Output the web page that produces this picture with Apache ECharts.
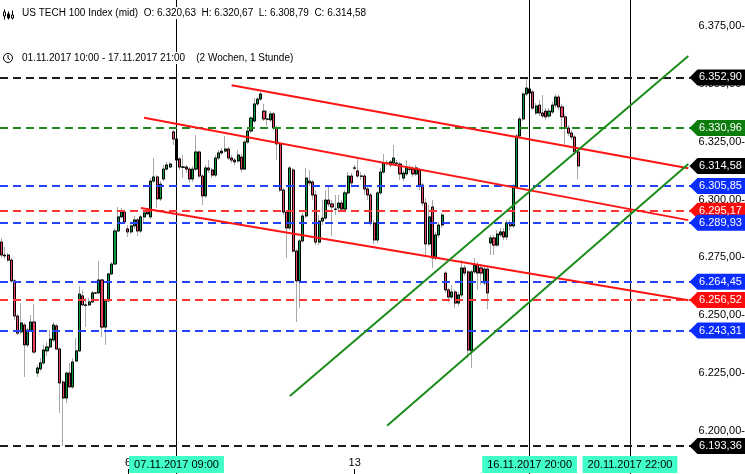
<!DOCTYPE html>
<html><head><meta charset="utf-8">
<script src="https://cdn.jsdelivr.net/npm/echarts@6/dist/echarts.min.js"></script>
<style>html,body{margin:0;padding:0;background:#fff;overflow:hidden}#c{width:745px;height:474px}</style>
</head><body><div id="c"></div>
<script>
// Trading days: [date, first hour, last hour] (hourly candles)
const tradingDays = [
  ['01.11.2017', 11, 21], ['02.11.2017', 8, 21], ['03.11.2017', 8, 21],
  ['06.11.2017', 8, 21], ['07.11.2017', 8, 21], ['08.11.2017', 8, 21], ['09.11.2017', 8, 21], ['10.11.2017', 8, 21],
  ['13.11.2017', 8, 21], ['14.11.2017', 8, 21], ['15.11.2017', 8, 21], ['16.11.2017', 8, 21], ['17.11.2017', 8, 22],
  ['20.11.2017', 8, 22], ['21.11.2017', 8, 22], ['22.11.2017', 8, 22], ['23.11.2017', 8, 22]
];
const slotCount = 230;

// [open, close, low, high]
const candles = [
[6281.6,6276.0,6274.7,6283.4],[6276.0,6275.6,6274.3,6279.5],[6276.0,6273.8,6273.0,6276.9],[6273.8,6264.8,6263.9,6274.7],
[6264.8,6249.6,6247.9,6265.6],[6249.6,6242.2,6241.4,6250.5],[6242.7,6246.6,6241.8,6255.2],[6245.7,6237.1,6223.2,6246.6],
[6237.1,6243.5,6236.2,6244.4],[6243.5,6247.0,6242.7,6250.0],[6247.0,6234.0,6233.2,6254.8],[6224.9,6227.1,6223.2,6228.4],
[6226.7,6229.3,6225.8,6231.4],[6229.3,6234.9,6228.4,6237.1],[6234.5,6236.2,6232.3,6238.4],[6236.2,6239.6,6235.3,6243.5],
[6239.2,6245.7,6238.4,6247.0],[6245.3,6235.3,6234.9,6246.1],[6235.3,6220.6,6207.6,6236.2],[6221.0,6214.1,6193.36,6221.9],
[6214.1,6224.9,6211.9,6225.4],[6224.9,6218.9,6218.4,6229.3],[6218.9,6229.7,6218.0,6231.4],[6230.1,6234.5,6229.7,6240.1],
[6234.5,6259.1,6234.0,6262.6],[6258.3,6254.4,6253.9,6260.9],[6254.4,6254.2,6244.8,6257.4],[6254.4,6255.7,6253.9,6257.4],
[6255.7,6259.6,6255.2,6260.4],[6259.6,6259.5,6259.1,6260.0],[6259.6,6265.2,6259.1,6273.4],[6265.2,6244.8,6240.5,6265.6],
[6244.8,6256.1,6237.1,6256.5],[6256.1,6267.8,6255.7,6268.2],[6267.8,6272.1,6267.4,6273.0],[6272.1,6286.4,6271.7,6287.7],
[6286.4,6292.5,6286.0,6296.8],[6292.5,6294.6,6292.0,6296.4],[6294.6,6290.3,6289.4,6295.5],[6287.3,6286.0,6283.8,6289.0],
[6286.0,6288.6,6285.1,6289.4],[6288.6,6291.2,6287.3,6292.9],[6291.2,6286.4,6284.2,6292.0],[6286.4,6292.5,6285.5,6293.3],
[6292.5,6294.2,6290.3,6295.5],[6293.8,6294.6,6293.3,6296.4],[6292.5,6308.0,6291.6,6309.3],[6308.0,6309.8,6307.2,6318.0],
[6309.8,6300.3,6296.4,6310.6],[6300.3,6306.7,6299.4,6308.0],[6308.9,6313.2,6308.0,6315.0],[6313.2,6315.0,6312.4,6316.3],
[6314.1,6315.4,6313.7,6316.3],[6329.3,6326.2,6323.6,6330.1],[6326.2,6317.1,6316.3,6327.1],[6317.6,6314.1,6312.8,6318.4],
[6314.1,6314.0,6309.3,6319.3],[6314.1,6313.2,6311.5,6315.0],[6313.2,6308.9,6307.2,6314.1],[6308.9,6313.2,6307.6,6314.5],
[6313.2,6320.6,6312.4,6328.0],[6320.6,6310.2,6309.3,6321.5],[6310.2,6301.6,6297.7,6311.1],[6301.6,6313.7,6300.7,6315.0],
[6313.7,6312.8,6311.5,6317.1],[6312.8,6310.6,6309.3,6313.7],[6310.6,6318.0,6309.8,6319.3],[6318.0,6320.2,6317.1,6321.5],
[6320.2,6321.0,6319.3,6322.3],[6321.0,6321.9,6320.2,6327.5],[6321.9,6318.0,6317.1,6322.8],[6318.0,6317.1,6315.8,6319.3],
[6317.1,6316.3,6315.0,6318.0],[6316.7,6319.3,6315.8,6321.5],[6318.4,6313.2,6311.9,6319.7],[6313.2,6324.9,6312.8,6325.8],
[6324.9,6329.7,6324.1,6331.0],[6329.7,6335.3,6328.8,6336.2],[6334.0,6341.4,6333.2,6344.0],[6341.4,6343.5,6340.5,6344.4],
[6343.5,6345.7,6342.7,6346.6],[6338.3,6334.9,6334.0,6341.4],[6334.9,6334.8,6331.9,6338.8],[6334.5,6337.1,6333.6,6338.3],
[6337.1,6331.0,6330.1,6337.9],[6331.0,6324.1,6317.1,6331.9],[6324.1,6304.1,6303.3,6324.9],[6304.1,6294.6,6293.3,6305.0],
[6294.6,6287.7,6274.7,6295.5],[6287.7,6313.7,6286.8,6314.5],[6312.8,6277.7,6276.9,6313.7],[6277.7,6264.8,6247.0,6278.6],
[6264.8,6282.1,6253.1,6282.9],[6282.1,6292.9,6281.2,6294.2],[6292.9,6309.3,6292.0,6313.7],[6308.0,6307.2,6305.9,6312.8],
[6307.6,6302.0,6299.8,6308.5],[6302.0,6281.6,6280.3,6304.1],[6281.6,6290.7,6280.3,6293.3],[6290.7,6292.0,6289.0,6299.8],
[6292.0,6299.8,6291.2,6304.1],[6299.8,6298.1,6296.8,6306.3],[6298.1,6296.8,6284.2,6299.8],[6295.9,6295.8,6293.3,6302.0],
[6296.4,6298.5,6294.6,6302.0],[6298.5,6295.9,6294.6,6299.8],[6295.9,6302.9,6295.1,6304.1],[6302.9,6310.2,6302.0,6311.9],
[6310.2,6307.2,6305.9,6311.5],[6313.7,6313.6,6312.8,6315.0],[6312.4,6310.2,6309.3,6318.0],[6310.2,6310.1,6308.5,6311.9],
[6310.2,6304.6,6302.0,6311.1],[6304.6,6302.0,6299.8,6305.4],[6302.0,6289.9,6288.6,6302.9],[6289.9,6282.5,6280.8,6291.2],
[6282.5,6302.9,6281.2,6303.7],[6302.9,6311.9,6302.0,6313.7],[6311.9,6315.8,6311.1,6319.7],[6315.8,6315.7,6314.5,6317.1],
[6315.0,6316.3,6314.1,6317.1],[6315.8,6318.0,6315.0,6323.6],[6315.8,6315.7,6314.5,6317.1],[6315.4,6311.1,6308.5,6316.3],
[6309.3,6311.5,6308.0,6312.8],[6311.1,6314.1,6310.2,6317.1],[6313.2,6313.1,6311.9,6315.0],[6313.2,6311.1,6309.8,6314.5],
[6311.1,6313.7,6310.2,6315.0],[6312.8,6306.3,6304.1,6313.7],[6306.3,6298.5,6297.2,6307.2],[6298.5,6280.8,6276.0,6300.7],
[6280.8,6292.5,6279.9,6297.7],[6296.8,6274.7,6270.4,6299.8],[6274.7,6284.7,6273.8,6286.0],[6284.7,6289.0,6283.4,6290.3],
[6289.0,6293.3,6287.7,6294.2],[6268.2,6260.9,6259.6,6269.1],[6260.9,6257.8,6255.7,6261.7],[6257.8,6260.0,6257.0,6263.0],
[6260.0,6255.2,6253.1,6260.9],[6255.2,6258.7,6253.9,6260.0],[6258.7,6270.4,6257.8,6273.8],[6270.4,6268.2,6266.9,6271.7],
[6268.7,6234.9,6231.4,6269.5],[6234.5,6268.7,6227.1,6269.5],[6268.7,6271.7,6267.8,6274.7],[6271.7,6268.2,6260.9,6273.0],
[6270.4,6268.2,6263.0,6272.1],[6263.9,6269.9,6263.0,6271.2],[6269.9,6259.6,6252.6,6271.2],[6281.2,6283.4,6276.0,6284.7],
[6283.4,6280.3,6276.0,6284.7],[6280.3,6285.1,6279.5,6286.8],[6284.7,6286.0,6283.8,6287.7],[6286.0,6283.8,6282.5,6287.7],
[6283.8,6289.9,6282.5,6291.2],[6289.9,6288.6,6286.8,6291.2],[6288.6,6305.4,6287.7,6306.7],[6305.4,6327.5,6304.6,6328.4],
[6327.5,6334.9,6326.7,6335.8],[6334.9,6345.7,6334.0,6346.6],[6345.7,6348.3,6344.8,6352.9],[6346.1,6347.9,6345.3,6349.2],
[6346.6,6339.6,6338.8,6347.4],[6337.5,6340.5,6336.6,6341.8],[6340.9,6337.5,6336.2,6343.1],[6337.5,6336.2,6335.3,6345.3],
[6338.3,6335.8,6334.5,6339.6],[6336.2,6338.3,6335.3,6339.6],[6337.9,6340.9,6337.1,6342.3],[6340.9,6344.4,6339.6,6345.7],
[6344.4,6340.1,6338.8,6345.3],[6340.1,6335.8,6330.1,6341.4],[6335.8,6331.0,6323.6,6337.1],[6331.0,6328.8,6327.5,6332.3],
[6328.8,6327.1,6325.8,6330.1],[6327.1,6320.6,6319.3,6328.0],[6320.63,6314.58,6308.79,6320.67]
];

// Horizontal levels
const levelValues = [6352.90, 6330.96, 6305.85, 6295.17, 6289.93, 6264.45, 6256.52, 6243.31, 6193.36];
const levelKinds  = ['black', 'green', 'blue', 'red', 'blue', 'blue', 'red', 'blue', 'black'];
const lastPrice = 6314.58;

// Trend lines: [[startTime, startValue], [endTime, endValue]]
const redLines = [
  [['08.11.2017 12:00', 6349.5], ['22.11.2017 10:00', 6313.6]],
  [['06.11.2017 13:00', 6335.4], ['22.11.2017 10:00', 6291.1]],
  [['06.11.2017 12:00', 6296.4], ['22.11.2017 10:00', 6256.4]]
];
const greenLines = [
  [['09.11.2017 16:00', 6215.0], ['22.11.2017 10:00', 6362.2]],
  [['13.11.2017 18:00', 6202.1], ['22.11.2017 10:00', 6315.4]]
];

const markerTimes = ['07.11.2017 09:00', '16.11.2017 20:00', '20.11.2017 22:00'];
const weekStarts = ['06.11.2017 08:00', '13.11.2017 08:00'];
const yTicks = [6200, 6225, 6250, 6275, 6300, 6325, 6350, 6375];
const tagSlot = '22.11.2017 19:00';

// ---- build
const categories = [];
tradingDays.forEach(([d, h0, h1]) => {
  for (let h = h0; h <= h1; h++) categories.push(d + ' ' + String(h).padStart(2, '0') + ':00');
});
categories.length = slotCount;

const fmt = v => {
  const [i, d] = v.toFixed(2).split('.');
  return i.replace(/\B(?=(\d{3})+(?!\d))/g, '.') + ',' + d;
};
const FONT = "'Liberation Sans', Arial, sans-serif";
const lineCol = {black: '#1c1c1c', green: '#1f8a1f', blue: '#2244ff', red: '#ff3535'};
const tagCol = {black: '#000000', green: '#0c7c0c', blue: '#0a2cff', red: '#ff0a0a'};
const GREEN = '#0a9a38', RED = '#e8455a';

const bodies = candles.map(([o, c]) => [o, c, Math.min(o, c), Math.max(o, c)]);

const tagData = levelValues.map((v, i) => ({value: [tagSlot, v], itemStyle: {color: tagCol[levelKinds[i]], opacity: 1}}));
tagData.push({value: [tagSlot, lastPrice], itemStyle: {color: tagCol.black, opacity: 1}});

const chart = echarts.init(document.getElementById('c'), null, {renderer: 'canvas'});
const series = [
  {
    type: 'candlestick', data: candles, barWidth: 2.6, z: 2, silent: true,
    itemStyle: {color: '#a8a8a8', color0: '#a8a8a8', borderColor: '#a8a8a8', borderColor0: '#a8a8a8', borderWidth: 1}
  },
  {
    type: 'candlestick', data: bodies, barWidth: 2.6, z: 3, silent: true,
    itemStyle: {color: GREEN, color0: RED, borderColor: '#000', borderColor0: '#000', borderWidth: 1},
    markLine: {
      silent: true, symbol: 'none', label: {show: false}, animation: false,
      lineStyle: {color: '#000', type: 'solid', width: 1},
      data: markerTimes.map(t => ({xAxis: t}))
    }
  },
  {
    type: 'line', data: [], z: 4, silent: true,
    markLine: {
      silent: true, symbol: 'none', label: {show: false}, animation: false,
      data: levelValues.map((v, i) => ({yAxis: v, lineStyle: {color: lineCol[levelKinds[i]], type: [8, 5], width: 2}}))
    }
  }
];
redLines.forEach(l => series.push({type: 'line', data: l, symbol: 'none', silent: true, z: 5, lineStyle: {color: '#ff1414', width: 2}}));
greenLines.forEach(l => series.push({type: 'line', data: l, symbol: 'none', silent: true, z: 5, lineStyle: {color: '#1a8c1a', width: 2}}));
series.push({
  type: 'scatter', data: tagData, z: 10, silent: true,
  itemStyle: {opacity: 1},
  symbol: 'path://M0,8 L8,0 L56,0 L56,16 L8,16 Z', symbolSize: [56, 16],
  label: {show: true, position: 'inside', offset: [3, 0], color: '#fff', fontSize: 11, fontFamily: FONT,
          formatter: p => fmt(p.value[1])}
});

chart.setOption({
  animation: false,
  backgroundColor: '#fff',
  grid: {left: 0, right: 0, top: 0, bottom: 0, containLabel: false, outerBoundsMode: 'none'},
  xAxis: [
    {
      type: 'category', data: categories, boundaryGap: true, z: 15,
      axisLine: {show: false},
      axisTick: {show: true, inside: true, length: 5, alignWithLabel: true, interval: (i, v) => weekStarts.includes(v), lineStyle: {color: '#000'}},
      axisLabel: {show: true, inside: true, margin: 6, interval: (i, v) => weekStarts.includes(v),
                  formatter: v => String(parseInt(v, 10)), color: '#000', fontSize: 11, fontFamily: FONT},
      splitLine: {show: false}
    },
    {
      type: 'category', data: categories, boundaryGap: true, position: 'bottom', z: 16,
      axisLine: {show: false}, axisTick: {show: false}, splitLine: {show: false},
      axisLabel: {show: true, inside: true, margin: 1, interval: (i, v) => markerTimes.includes(v),
                  formatter: v => v, color: '#000', fontSize: 11, fontFamily: FONT,
                  backgroundColor: '#40ffc8', padding: [3, 5, 2, 5], lineHeight: 12}
    }
  ],
  yAxis: {
    type: 'value', position: 'right', min: 6181.2, max: 6386.4, scale: true, z: 1,
    axisLine: {show: false}, axisTick: {show: false}, splitLine: {show: false},
    axisLabel: {inside: true, margin: 0, customValues: yTicks, formatter: v => fmt(v) + '-',
                color: '#000', fontSize: 11, fontFamily: FONT}
  },
  series: series,
  graphic: [
    {type: 'text', left: 21, top: 7, z: 20, style: {text: 'US TECH 100 Index (mid)  O: 6.320,63  H: 6.320,67  L: 6.308,79  C: 6.314,58',
      fill: '#000', font: '10px ' + FONT, backgroundColor: '#fff', padding: [1, 1]}},
    {type: 'text', left: 21, top: 52, z: 20, style: {text: '01.11.2017 10:00 - 17.11.2017 21:00    (2 Wochen, 1 Stunde)',
      fill: '#000', font: '10px ' + FONT, backgroundColor: '#fff', padding: [1, 1]}},
    // small candle icon
    {type: 'group', left: 2, top: 7, z: 20, children: [
      {type: 'line', shape: {x1: 1.5, y1: 0, x2: 1.5, y2: 10}, style: {stroke: '#000', lineWidth: 1}},
      {type: 'rect', shape: {x: 0.5, y: 2.5, width: 2, height: 4}, style: {fill: '#fff', stroke: '#000', lineWidth: 1}},
      {type: 'line', shape: {x1: 5.5, y1: 2, x2: 5.5, y2: 10}, style: {stroke: '#000', lineWidth: 1}},
      {type: 'rect', shape: {x: 4.5, y: 4.5, width: 2, height: 4}, style: {fill: '#000', stroke: '#000', lineWidth: 1}},
      {type: 'line', shape: {x1: 9.5, y1: 1, x2: 9.5, y2: 10}, style: {stroke: '#000', lineWidth: 1}},
      {type: 'rect', shape: {x: 8.5, y: 5.5, width: 2, height: 3}, style: {fill: '#fff', stroke: '#000', lineWidth: 1}}
    ]},
    // clock icon
    {type: 'circle', z: 20, shape: {cx: 8, cy: 58, r: 4.5}, style: {fill: 'none', stroke: '#000', lineWidth: 1}},
    {type: 'polyline', z: 20, shape: {points: [[8, 55], [8, 58], [10, 60]]}, style: {fill: 'none', stroke: '#000', lineWidth: 1}}
  ]
});
</script></body></html>
